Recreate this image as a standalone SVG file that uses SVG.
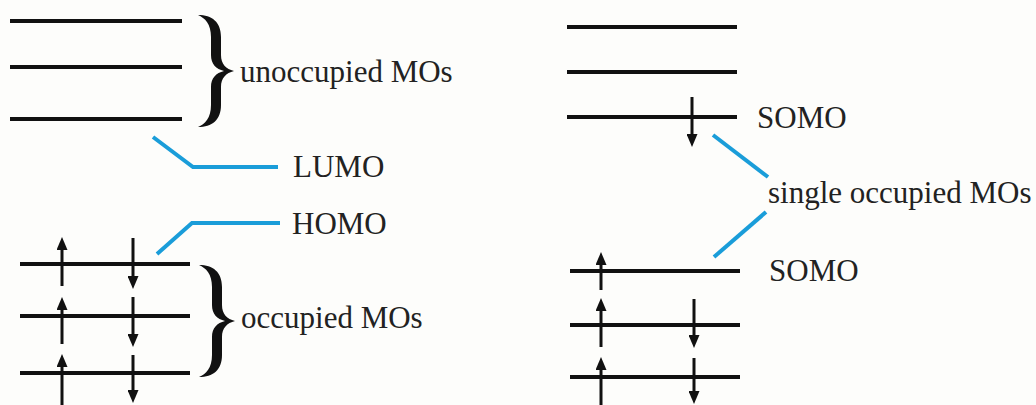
<svg xmlns="http://www.w3.org/2000/svg" width="1036" height="405" viewBox="0 0 1036 405">
  <style>
    .level { stroke: #111; stroke-width: 4; fill: none; }
    .spin { stroke: #111; stroke-width: 3; fill: none; marker-end: url(#head); }
    .lead { stroke: #1a9dd9; stroke-width: 4; fill: none; }
    .brace { fill: #111; }
    .label { font-family: "Times New Roman", "Liberation Serif", "DejaVu Serif", serif; font-size: 31px; fill: #222; }
  </style>
  <defs>
    <marker id="head" viewBox="0 0 13 11" refX="2" refY="5.5" markerWidth="13" markerHeight="11" markerUnits="userSpaceOnUse" orient="auto">
      <path d="M0,0 L13,5.5 L0,11 Z" fill="#111"/>
    </marker>
    <!-- curly brace, 36 wide and 112 tall, pointing right -->
    <path id="curly" d="M0,0 C14,0 23,7 23,22 L23,40 C23,49 28,54 36,56 C28,58 23,63 23,72 L23,90 C23,105 14,112 0,112 C7,109 13,103 13,90 L13,72 C13,63 18,58 26,56 C18,54 13,49 13,40 L13,22 C13,9 7,3 0,0 Z"/>
  </defs>
  <rect width="1036" height="405" fill="#fdfdfb"/>

  <!-- closed-shell molecule -->
  <g id="unoccupied">
    <line class="level" x1="10" y1="21" x2="182" y2="21"/>
    <line class="level" x1="10" y1="67" x2="182" y2="67"/>
    <line class="level" x1="10" y1="119" x2="182" y2="119"/>
    <use href="#curly" class="brace" transform="translate(198,15)"/>
    <text class="label" x="240" y="82">unoccupied MOs</text>
  </g>
  <g id="occupied">
    <line class="level" x1="20" y1="264" x2="190" y2="264"/>
    <line class="level" x1="20" y1="316" x2="190" y2="316"/>
    <line class="level" x1="20" y1="373" x2="190" y2="373"/>
    <line class="spin" x1="62" y1="286" x2="62" y2="248"/>
    <line class="spin" x1="133" y1="238" x2="133" y2="278"/>
    <line class="spin" x1="62" y1="344" x2="62" y2="308"/>
    <line class="spin" x1="133" y1="297" x2="133" y2="336"/>
    <line class="spin" x1="62" y1="406" x2="62" y2="365"/>
    <line class="spin" x1="133" y1="355" x2="133" y2="392"/>
    <use href="#curly" class="brace" transform="translate(199,265)"/>
    <text class="label" x="241" y="328">occupied MOs</text>
  </g>
  <g id="lumo">
    <text class="label" x="293" y="177">LUMO</text>
  </g>
  <g id="homo">
    <text class="label" x="292" y="234">HOMO</text>
  </g>

  <!-- open-shell molecule -->
  <g id="upper-levels">
    <line class="level" x1="567" y1="27" x2="737" y2="27"/>
    <line class="level" x1="567" y1="72" x2="737" y2="72"/>
    <line class="level" x1="567" y1="117" x2="737" y2="117"/>
    <line class="spin" x1="692" y1="97" x2="692" y2="136"/>
    <text class="label" x="757" y="128">SOMO</text>
  </g>
  <g id="lower-levels">
    <line class="level" x1="570" y1="271" x2="740" y2="271"/>
    <line class="level" x1="570" y1="325" x2="740" y2="325"/>
    <line class="level" x1="570" y1="377" x2="740" y2="377"/>
    <line class="spin" x1="601" y1="290" x2="601" y2="263"/>
    <line class="spin" x1="601" y1="347" x2="601" y2="309"/>
    <line class="spin" x1="694" y1="299" x2="694" y2="337"/>
    <line class="spin" x1="601" y1="406" x2="601" y2="368"/>
    <line class="spin" x1="694" y1="358" x2="694" y2="393"/>
    <text class="label" x="769" y="281">SOMO</text>
  </g>
  <g id="single-occupied">
    <text class="label" x="768" y="203">single occupied MOs</text>
  </g>

  <!-- leader lines -->
  <g id="connectors">
    <polyline class="lead" points="153,137 193,167 278,167"/>
    <polyline class="lead" points="157,254 192,223 280,223"/>
    <line class="lead" x1="713" y1="135" x2="768" y2="177"/>
    <line class="lead" x1="766" y1="212" x2="714" y2="257"/>
  </g>
</svg>
